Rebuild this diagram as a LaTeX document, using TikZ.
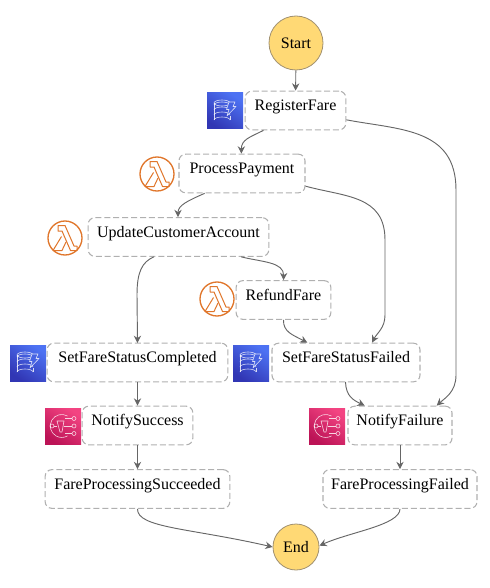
\documentclass[tikz,border=0pt]{standalone}
\usepackage{fontspec}
\setmainfont{Liberation Serif}
\usetikzlibrary{arrows.meta,calc}
\definecolor{edgegray}{HTML}{666666}
\definecolor{boxgray}{HTML}{B0B0B0}
\definecolor{termfill}{HTML}{FFD975}
\definecolor{termline}{HTML}{A09070}
\definecolor{lamorange}{HTML}{E0762B}
\definecolor{ddbb}{HTML}{3136B4}
\definecolor{ddbt}{HTML}{4D72F3}
\definecolor{snsb}{HTML}{BC1356}
\definecolor{snst}{HTML}{F34482}
\newcommand{\lift}[1]{\raisebox{0pt}[0.6pt][0pt]{#1}}
\tikzset{
  x=0.75pt,y=-0.75pt,
  statebox/.style={draw=boxgray,line width=0.8pt,dash pattern=on 4.5pt off 2.2pt,rounded corners=5pt,fill=white,
    inner sep=0pt,minimum height=29pt,font=\fontsize{12}{14}\selectfont},
  term/.style={circle,draw=termline,fill=termfill,line width=0.6pt,inner sep=0pt,font=\fontsize{12}{14}\selectfont},
  conn/.style={draw=edgegray,line width=0.7pt,-{Stealth[length=5.5pt,width=5.5pt]}},
  glyph/.style={draw=white,draw opacity=0.8,line width=0.45pt,line join=round},
  lamicon/.style={circle,draw=lamorange,line width=1pt,fill=white,minimum size=25.5pt,inner sep=0pt},
  ddbicon/.style={rectangle,minimum size=27pt,inner sep=0pt,shade,shading=axis,bottom color=ddbb,top color=ddbt,shading angle=-35},
  snsicon/.style={rectangle,minimum size=27pt,inner sep=0pt,shade,shading=axis,bottom color=snsb,top color=snst,shading angle=-35},
  lamglyph/.pic={
    \draw[lamorange,line width=0.75pt,line join=round]
      (-7,-12.5) -- (0,-12.5) -- (9,8) -- (12,8) -- (12,12.5) -- (5.5,12.5) -- (-3,-7) -- (-7,-7) -- cycle;
    \draw[lamorange,line width=0.75pt,line join=round]
      (-3.5,-1.5) -- (-12,12.5) -- (-3,12.5) -- (1,4);
  },
  ddbglyph/.pic={
    \foreach \yy in {-6,-1,4,9}{
      \draw[glyph] (-11,\yy) arc[start angle=180,end angle=360,x radius=8,y radius=3];
    }
    \draw[glyph] (-3,-8) ellipse[x radius=8,y radius=3];
    \draw[glyph] (-11,-8) -- (-11,9);
    \draw[glyph] (5,5) -- (5,9);
    \draw[glyph,fill=ddbt!75!ddbb] (4,-9) -- (10,-9) -- (8,-4.5) -- (11,-4.5) -- (2,5) -- (4,-1.5) -- (1.5,-1.5) -- cycle;
  },
  snsglyph/.pic={
    \draw[glyph] (4.5,-10) arc[start angle=-60,end angle=-300,radius=11.5];
    \draw[glyph] (-6,-5) -- (1,-5) -- (-1,6) -- (-3,6) -- cycle;
    \draw[glyph] (-9,0) -- (-6,0) (0.5,0) -- (9,0);
    \draw[glyph] (2,-7.5) -- (9,-7.5) (2,7.5) -- (9,7.5);
    \foreach \px/\py in {-11/0,11/-7.5,11/0,11/7.5}{
      \draw[glyph] (\px,\py) circle[radius=2];
    }
  },
}
\begin{document}
\begin{tikzpicture}
\useasboundingbox (0,0) rectangle (489,588);
% terminals
\node[term,minimum size=40.5pt] (start) at (296,43) {Start};
\node[term,minimum size=34.5pt] (end) at (296,547) {End};
% states
\node[statebox,minimum width=75.5pt] (reg) at (295.5,110.5) {\lift{RegisterFare}};
\node[statebox,minimum width=94.5pt] (pay) at (242,173.5) {\lift{ProcessPayment}};
\node[statebox,minimum width=135.5pt] (uca) at (178.5,237) {\lift{UpdateCustomerAccount}};
\node[statebox,minimum width=71pt] (ref) at (283.5,300) {\lift{RefundFare}};
\node[statebox,minimum width=135.5pt] (sfc) at (137.5,362.5) {\lift{SetFareStatusCompleted}};
\node[statebox,minimum width=111pt] (sff) at (346,362.5) {\lift{SetFareStatusFailed}};
\node[statebox,minimum width=83pt] (nsu) at (137.5,425.5) {\lift{NotifySuccess}};
\node[statebox,minimum width=78pt] (nfa) at (400,425.5) {\lift{NotifyFailure}};
\node[statebox,minimum width=138.5pt] (fps) at (137.5,489) {\lift{FareProcessingSucceeded}};
\node[statebox,minimum width=115.5pt] (fpf) at (400,489) {\lift{FareProcessingFailed}};
% icons
\node[ddbicon] (ireg) at (225,111) {}; \pic at (ireg) {ddbglyph};
\node[ddbicon] (isfc) at (28,363) {}; \pic at (isfc) {ddbglyph};
\node[ddbicon] (isff) at (251,363) {}; \pic at (isff) {ddbglyph};
\node[snsicon] (insu) at (63,426) {}; \pic at (insu) {snsglyph};
\node[snsicon] (infa) at (327,426) {}; \pic at (infa) {snsglyph};
\node[lamicon] (ipay) at (157,174) {}; \pic at (ipay) {lamglyph};
\node[lamicon] (iuca) at (65,238) {}; \pic at (iuca) {lamglyph};
\node[lamicon] (iref) at (217,299) {}; \pic at (iref) {lamglyph};
% connectors
\draw[conn] (start) -- (reg);
\draw[conn] ([xshift=-24pt]reg.south) .. controls +(-14,7) and +(0,-14) .. ([xshift=-0.5pt]pay.north);
\draw[conn] ([yshift=-7pt]reg.east) .. controls (400,130) and (456,128) .. (456,190)
  -- (456,375) .. controls (456,392) and (445,398) .. ([xshift=27.5pt]nfa.north);
\draw[conn] ([xshift=-28pt]pay.south) .. controls +(-16,7) and +(0,-12) .. ([xshift=-0.4pt]uca.north);
\draw[conn] ([yshift=-9.5pt]pay.east) .. controls (345,197) and (385,195) .. (385,240)
  -- (385,315) .. controls (385,328) and (377,333) .. ([xshift=19.5pt]sff.north);
\draw[conn] ([xshift=-18.5pt]uca.south) .. controls (142,262) and (137,272) .. (137,295) -- (137.5,343);
\draw[conn] ([xshift=47pt]uca.south) .. controls (262,262) and (284,262) .. ([xshift=0pt]ref.north);
\draw[conn] ([xshift=0pt]ref.south) .. controls (283,332) and (293,335) .. ([xshift=-29pt]sff.north);
\draw[conn] (345.5,382) .. controls (346,396) and (353,400) .. ([xshift=-26.5pt]nfa.north);
\draw[conn] (sfc) -- (nsu);
\draw[conn] (nsu) -- (fps);
\draw[conn] (nfa) -- (fpf);
\draw[conn] (fps.south) .. controls (137,528) and (190,528) .. (end.west);
\draw[conn] (fpf.south) .. controls (400,525) and (350,532) .. ([yshift=1pt]end.east);
\end{tikzpicture}
\end{document}
